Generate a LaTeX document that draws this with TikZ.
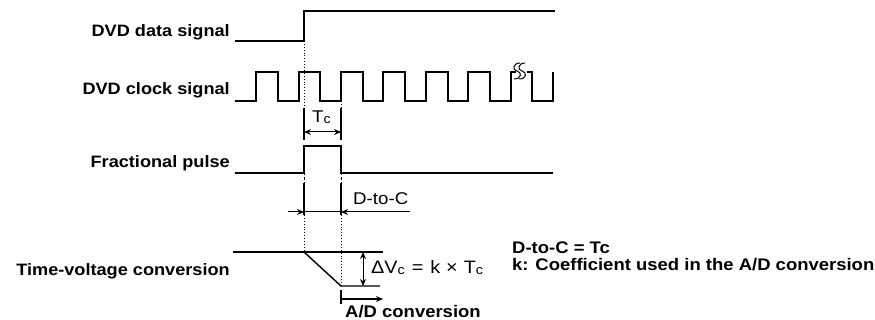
\documentclass[tikz,border=0pt]{standalone}
\usepackage{fontspec}
\setmainfont[FakeStretch=1.1]{Liberation Sans}
\usetikzlibrary{arrows.meta}
\newcommand{\subc}{\raisebox{-1pt}{\fontsize{13}{13}\selectfont c}}
\tikzset{
  sig/.style={line width=1.4pt, line join=miter},
  guide/.style={line width=0.9pt, dotted},
  dimline/.style={line width=1.4pt},
  tip/.style={-{Stealth[length=7pt,width=6pt]}},
  lbl/.style={font=\fontsize{16.5}{18}\selectfont\bfseries, inner sep=0pt, anchor=base east},
  txt/.style={font=\fontsize{17}{18}\selectfont, inner sep=0pt, anchor=base west},
  btxt/.style={font=\fontsize{16.8}{18}\selectfont\bfseries, inner sep=0pt, anchor=base west},
}
\begin{document}
\begin{tikzpicture}[x=1pt,y=-1pt]
\useasboundingbox (0,0) rectangle (875,320);
% labels
\node[lbl] (ldata) at (230,37) {DVD data signal};
\node[lbl] (lclk) at (230,95) {DVD clock signal};
\node[lbl] (lfrac) at (230,168) {Fractional pulse};
\node[lbl] (ltv) at (230,276) {Time-voltage conversion};
% data signal
\draw[sig] (235,41) -- (304,41) -- (304,11) -- (555,11);
% clock signal
\draw[sig] (235,101) -- (256,101) -- (256,72) -- (278,72) -- (278,101) -- (299,101)
  -- (299,72) -- (320,72) -- (320,101) -- (341,101) -- (341,72) -- (363,72) -- (363,101)
  -- (383,101) -- (383,72) -- (405,72) -- (405,101) -- (426,101) -- (426,72) -- (448,72)
  -- (448,101) -- (468,101) -- (468,72) -- (490,72) -- (490,101) -- (511,101) -- (511,72)
  -- (516,72);
\draw[sig] (527,72) -- (532,72) -- (532,101) -- (553,101) -- (553,72);
% break mark
\draw[line width=1pt] (514,79) .. controls (522,79) and (522,72) .. (517,71) .. controls (512,70) and (513,63) .. (520,63);
\draw[line width=1pt] (519,79) .. controls (527,79) and (527,72) .. (522,71) .. controls (517,70) and (518,63) .. (525,63);
% guides
\draw[guide] (304,41) -- (304,108);
\draw[guide] (341,101) -- (341,108);
% Tc dimension
\draw[dimline] (304,108) -- (304,140);
\draw[dimline] (341,108) -- (341,140);
\draw[line width=1pt, {Stealth[length=7pt,width=6pt]}-{Stealth[length=7pt,width=6pt]}] (304,132) -- (341,132);
\node[txt] (tc) at (312,123) {T\subc};
% fractional pulse
\draw[sig] (235,173) -- (304,173) -- (304,146) -- (341,146) -- (341,173) -- (553,173);
% extension lines
\draw[line width=0.9pt, dash pattern=on 1pt off 2pt on 3pt off 2pt] (304,174) -- (304,183);
\draw[line width=0.9pt, dash pattern=on 1pt off 2pt on 3pt off 2pt] (341,174) -- (341,183);
\draw[dimline] (304,183) -- (304,215);
\draw[dimline] (341,183) -- (341,215);
\draw[guide] (304,215) -- (304,252);
\draw[guide] (341,215) -- (341,286);
% D-to-C dimension
\draw[line width=1pt, tip] (288,212) -- (304,212);
\draw[line width=1pt] (304,212) -- (341,212);
\draw[line width=1pt, tip] (410,212) -- (341,212);
\node[txt] (dtoc) at (353,205) {D-to-C};
% time-voltage conversion
\draw[sig] (233,252) -- (383,252);
\draw[sig] (304,252) -- (341,286) -- (380,286);
\draw[line width=1pt, {Stealth[length=7pt,width=6pt]}-{Stealth[length=7pt,width=6pt]}] (363,252) -- (363,286);
\node[txt, font=\fontsize{18}{18}\selectfont] (dv) at (371,274) {ΔV\subc\hspace{7pt}=\hspace{7pt}k\hspace{6pt}×\hspace{6pt}T\subc};
% A/D conversion
\draw[line width=1.2pt] (341,290) -- (341,304);
\draw[line width=1.2pt, tip] (341,299) -- (383,299);
\node[btxt] (ad) at (345,317) {A/D conversion};
% notes
\node[btxt] (n1) at (512,254) {D-to-C = Tc};
\node[btxt] (n2) at (512,271) {k: Coefficient used in the A/D conversion};
\end{tikzpicture}
\end{document}
